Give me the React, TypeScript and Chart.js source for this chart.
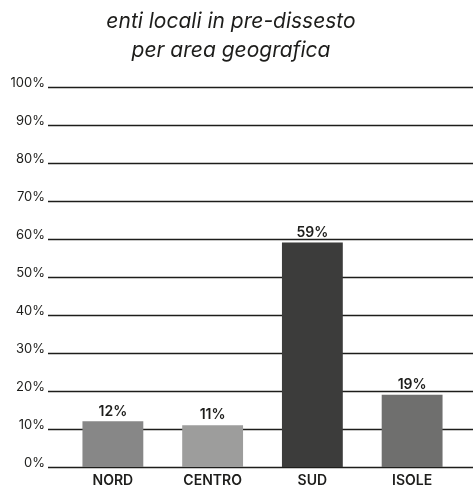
import React, { useEffect, useRef } from "react";
import { Chart, registerables } from "chart.js";

Chart.register(...registerables);

const titleLines = ["enti locali in pre-dissesto", "per area geografica"];
const categories = ["NORD", "CENTRO", "SUD", "ISOLE"];
const values = [12, 11, 59, 19];
const barColors = ["#878787", "#9d9d9c", "#3c3c3b", "#6f6f6e"];
const yTicks = [0, 10, 20, 30, 40, 50, 60, 70, 80, 90, 100];

const FONT = "Inter, Lato, sans-serif";
const INK = "#1d1d1b";

const gridPlugin = {
  id: "extGrid",
  beforeDatasetsDraw(chart: any) {
    const { ctx, chartArea } = chart;
    const y = chart.scales.y;
    ctx.save();
    ctx.strokeStyle = INK;
    ctx.lineWidth = 1.4;
    yTicks.forEach((v) => {
      const py = Math.round(y.getPixelForValue(v)) + 0.5;
      ctx.beginPath();
      ctx.moveTo(chartArea.left - 15, py);
      ctx.lineTo(chartArea.right + 11, py);
      ctx.stroke();
    });
    ctx.restore();
  },
};

const valueLabelPlugin = {
  id: "valueLabels",
  afterDatasetsDraw(chart: any) {
    const { ctx } = chart;
    const meta = chart.getDatasetMeta(0);
    ctx.save();
    ctx.fillStyle = INK;
    ctx.font = `600 14px ${FONT}`;
    ctx.textAlign = "center";
    ctx.textBaseline = "bottom";
    meta.data.forEach((bar: any, i: number) => {
      ctx.fillText(`${values[i]}%`, bar.x, bar.y - 3);
    });
    ctx.restore();
  },
};

export default function App() {
  const ref = useRef<HTMLCanvasElement>(null);
  useEffect(() => {
    document.body.style.margin = "0";
    const chart = new Chart(ref.current!, {
      type: "bar",
      data: {
        labels: categories,
        datasets: [
          {
            data: values,
            backgroundColor: barColors,
            borderWidth: 0,
            barPercentage: 0.61,
            categoryPercentage: 1,
          },
        ],
      },
      options: {
        animation: false,
        responsive: false,
        maintainAspectRatio: false,
        layout: { padding: { left: 0, right: 14, top: 0, bottom: 0 } },
        plugins: {
          legend: { display: false },
          tooltip: { enabled: false },
          title: {
            display: true,
            text: titleLines,
            color: INK,
            font: { family: FONT, size: 21, style: "italic", weight: "normal", lineHeight: 1.35 },
            padding: { top: 8, bottom: 22 },
          },
        },
        scales: {
          x: {
            grid: { display: false, drawTicks: false },
            border: { display: false },
            ticks: {
              color: INK,
              font: { family: FONT, size: 14, weight: 600 },
              padding: 5,
              maxRotation: 0,
            },
            afterFit: (s: any) => {
              s.height = 20;
            },
          },
          y: {
            min: 0,
            max: 100,
            grid: { display: false, drawTicks: true, tickLength: 15 },
            border: { display: false },
            ticks: {
              stepSize: 10,
              color: INK,
              font: { family: FONT, size: 13 },
              padding: 3,
              labelOffset: -4,
              callback: (v: any) => `${v}%`,
            },
            afterFit: (s: any) => {
              s.width = 63;
            },
          },
        },
      },
      plugins: [gridPlugin, valueLabelPlugin],
    });
    return () => chart.destroy();
  }, []);
  return (
    <div style={{ width: 476, height: 487 }}>
      <canvas ref={ref} width={476} height={487} style={{ display: "block" }} />
    </div>
  );
}
